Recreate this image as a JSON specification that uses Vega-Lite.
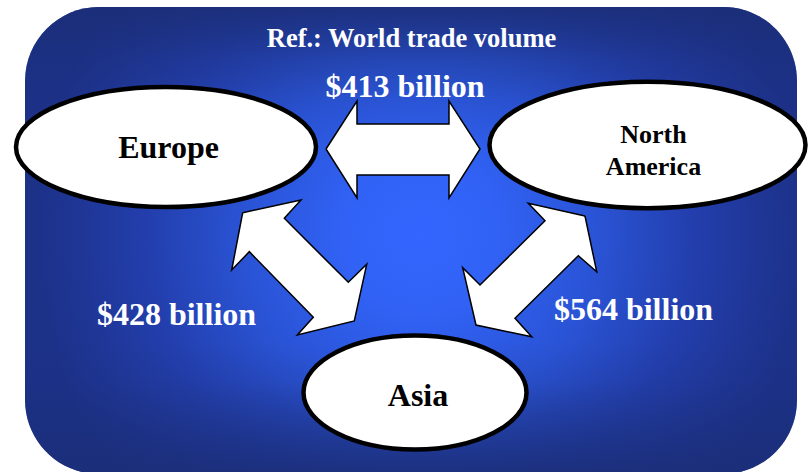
{
  "$schema": "https://vega.github.io/schema/vega-lite/v6.json",
  "width": 811,
  "height": 472,
  "autosize": "none",
  "padding": 0,
  "background": "white",
  "config": {"view": {"stroke": null}, "text": {"font": "Liberation Serif", "fontWeight": "bold"}},
  "datasets": {
    "frame": [{"x": 25, "x2": 797, "y": 7, "y2": 474}],
    "arrows": [
      {"a": "Europe-North America", "i": 0, "x": 326, "y": 149},
      {"a": "Europe-North America", "i": 1, "x": 357, "y": 101},
      {"a": "Europe-North America", "i": 2, "x": 357, "y": 124},
      {"a": "Europe-North America", "i": 3, "x": 449, "y": 124},
      {"a": "Europe-North America", "i": 4, "x": 449, "y": 101},
      {"a": "Europe-North America", "i": 5, "x": 480, "y": 149},
      {"a": "Europe-North America", "i": 6, "x": 449, "y": 198},
      {"a": "Europe-North America", "i": 7, "x": 449, "y": 175},
      {"a": "Europe-North America", "i": 8, "x": 357, "y": 175},
      {"a": "Europe-North America", "i": 9, "x": 357, "y": 198},
      {"a": "Europe-North America", "i": 10, "x": 326, "y": 149},
      {"a": "Europe-Asia", "i": 0, "x": 242.7, "y": 212.7},
      {"a": "Europe-Asia", "i": 1, "x": 301, "y": 200},
      {"a": "Europe-Asia", "i": 2, "x": 284.3, "y": 218.3},
      {"a": "Europe-Asia", "i": 3, "x": 348.3, "y": 282.3},
      {"a": "Europe-Asia", "i": 4, "x": 366.7, "y": 264.3},
      {"a": "Europe-Asia", "i": 5, "x": 354.3, "y": 321},
      {"a": "Europe-Asia", "i": 6, "x": 297.3, "y": 335},
      {"a": "Europe-Asia", "i": 7, "x": 313.3, "y": 317.3},
      {"a": "Europe-Asia", "i": 8, "x": 249.3, "y": 251.7},
      {"a": "Europe-Asia", "i": 9, "x": 231.7, "y": 270},
      {"a": "Europe-Asia", "i": 10, "x": 242.7, "y": 212.7},
      {"a": "North America-Asia", "i": 0, "x": 585, "y": 216},
      {"a": "North America-Asia", "i": 1, "x": 596.7, "y": 271.7},
      {"a": "North America-Asia", "i": 2, "x": 578.3, "y": 255.7},
      {"a": "North America-Asia", "i": 3, "x": 515, "y": 318.3},
      {"a": "North America-Asia", "i": 4, "x": 531.7, "y": 336.7},
      {"a": "North America-Asia", "i": 5, "x": 476, "y": 325},
      {"a": "North America-Asia", "i": 6, "x": 462.7, "y": 267.7},
      {"a": "North America-Asia", "i": 7, "x": 480, "y": 285},
      {"a": "North America-Asia", "i": 8, "x": 545, "y": 220.7},
      {"a": "North America-Asia", "i": 9, "x": 528.3, "y": 203.3},
      {"a": "North America-Asia", "i": 10, "x": 585, "y": 216}
    ],
    "regions": [
      {"region": "Europe", "x": 166, "y": 147, "w": 300, "form": "wide"},
      {"region": "North America", "x": 647.5, "y": 145, "w": 316, "form": "wide"},
      {"region": "Asia", "x": 415, "y": 392.5, "w": 223, "form": "round"}
    ],
    "title": [{"t": "Ref.: World trade volume", "x": 411.5, "y": 47}],
    "amounts": [
      {"t": "$413 billion", "x": 405, "y": 97},
      {"t": "$428 billion", "x": 176.5, "y": 325},
      {"t": "$564 billion", "x": 633.5, "y": 320}
    ],
    "bigLabels": [
      {"t": "Europe", "x": 168.5, "y": 158},
      {"t": "Asia", "x": 418, "y": 406}
    ],
    "smallLabels": [
      {"t": "North", "x": 653.5, "y": 143},
      {"t": "America", "x": 653.5, "y": 175}
    ]
  },
  "layer": [
    {
      "data": {"name": "frame"},
      "mark": {
        "type": "rect",
        "cornerRadius": 74,
        "fill": {
          "gradient": "radial",
          "x1": 0.512, "y1": 0.493, "r1": 0,
          "x2": 0.512, "y2": 0.493, "r2": 0.5,
          "stops": [
            {"offset": 0, "color": "#3366ff"},
            {"offset": 0.2, "color": "#3162f5"},
            {"offset": 0.45, "color": "#2a54d6"},
            {"offset": 0.7, "color": "#233fae"},
            {"offset": 0.88, "color": "#1f3696"},
            {"offset": 1, "color": "#1c3188"}
          ]
        }
      },
      "encoding": {
        "x": {"field": "x", "type": "quantitative", "scale": {"domain": [0, 811], "nice": false, "zero": false}, "axis": null},
        "x2": {"field": "x2"},
        "y": {"field": "y", "type": "quantitative", "scale": {"domain": [0, 472], "nice": false, "zero": false, "reverse": true}, "axis": null},
        "y2": {"field": "y2"}
      }
    },
    {
      "data": {"name": "frame"},
      "mark": {
        "type": "rect",
        "cornerRadius": 74,
        "fill": {
          "gradient": "linear",
          "x1": 0, "y1": 0, "x2": 0, "y2": 1,
          "stops": [
            {"offset": 0, "color": "rgba(27,46,120,0.9)"},
            {"offset": 0.113, "color": "rgba(27,46,120,0.35)"},
            {"offset": 0.2, "color": "rgba(27,46,120,0.12)"},
            {"offset": 0.3, "color": "rgba(27,46,120,0)"},
            {"offset": 0.72, "color": "rgba(27,46,120,0)"},
            {"offset": 0.8, "color": "rgba(27,46,120,0.12)"},
            {"offset": 0.9, "color": "rgba(27,46,120,0.5)"},
            {"offset": 1, "color": "rgba(27,46,120,0.9)"}
          ]
        }
      },
      "encoding": {
        "x": {"field": "x", "type": "quantitative", "scale": {"domain": [0, 811], "nice": false, "zero": false}, "axis": null},
        "x2": {"field": "x2"},
        "y": {"field": "y", "type": "quantitative", "scale": {"domain": [0, 472], "nice": false, "zero": false, "reverse": true}, "axis": null},
        "y2": {"field": "y2"}
      }
    },
    {
      "data": {"name": "arrows"},
      "mark": {"type": "line", "fill": "white", "stroke": "black", "strokeWidth": 1.5, "strokeJoin": "miter"},
      "encoding": {
        "x": {"field": "x", "type": "quantitative", "scale": {"domain": [0, 811], "nice": false, "zero": false}, "axis": null},
        "y": {"field": "y", "type": "quantitative", "scale": {"domain": [0, 472], "nice": false, "zero": false, "reverse": true}, "axis": null},
        "detail": {"field": "a", "type": "nominal"},
        "order": {"field": "i", "type": "quantitative"}
      }
    },
    {
      "data": {"name": "regions"},
      "mark": {"type": "point", "filled": true, "fill": "white", "stroke": "black", "strokeWidth": 4.5, "opacity": 1, "fillOpacity": 1, "strokeOpacity": 1},
      "encoding": {
        "x": {"field": "x", "type": "quantitative", "scale": {"domain": [0, 811], "nice": false, "zero": false}, "axis": null},
        "y": {"field": "y", "type": "quantitative", "scale": {"domain": [0, 472], "nice": false, "zero": false, "reverse": true}, "axis": null},
        "shape": {
          "field": "form", "type": "nominal", "legend": null,
          "scale": {
            "domain": ["wide", "round"],
            "range": [
              "M-1,0C-1,-0.2209,-0.5523,-0.4,0,-0.4C0.5523,-0.4,1,-0.2209,1,0C1,0.2209,0.5523,0.4,0,0.4C-0.5523,0.4,-1,0.2209,-1,0Z",
              "M-1,0C-1,-0.2822,-0.5523,-0.511,0,-0.511C0.5523,-0.511,1,-0.2822,1,0C1,0.2822,0.5523,0.511,0,0.511C-0.5523,0.511,-1,0.2822,-1,0Z"
            ]
          }
        },
        "size": {"field": "w", "type": "quantitative", "legend": null, "scale": {"type": "pow", "exponent": 2, "domain": [0, 811], "range": [0, 657721]}}
      }
    },
    {
      "data": {"name": "title"},
      "mark": {"type": "text", "fontSize": 26.5, "color": "white", "align": "center", "baseline": "alphabetic"},
      "encoding": {
        "x": {"field": "x", "type": "quantitative", "scale": {"domain": [0, 811], "nice": false, "zero": false}, "axis": null},
        "y": {"field": "y", "type": "quantitative", "scale": {"domain": [0, 472], "nice": false, "zero": false, "reverse": true}, "axis": null},
        "text": {"field": "t"}
      }
    },
    {
      "data": {"name": "amounts"},
      "mark": {"type": "text", "fontSize": 32, "color": "white", "align": "center", "baseline": "alphabetic"},
      "encoding": {
        "x": {"field": "x", "type": "quantitative", "scale": {"domain": [0, 811], "nice": false, "zero": false}, "axis": null},
        "y": {"field": "y", "type": "quantitative", "scale": {"domain": [0, 472], "nice": false, "zero": false, "reverse": true}, "axis": null},
        "text": {"field": "t"}
      }
    },
    {
      "data": {"name": "bigLabels"},
      "mark": {"type": "text", "fontSize": 32, "color": "black", "align": "center", "baseline": "alphabetic"},
      "encoding": {
        "x": {"field": "x", "type": "quantitative", "scale": {"domain": [0, 811], "nice": false, "zero": false}, "axis": null},
        "y": {"field": "y", "type": "quantitative", "scale": {"domain": [0, 472], "nice": false, "zero": false, "reverse": true}, "axis": null},
        "text": {"field": "t"}
      }
    },
    {
      "data": {"name": "smallLabels"},
      "mark": {"type": "text", "fontSize": 26, "color": "black", "align": "center", "baseline": "alphabetic"},
      "encoding": {
        "x": {"field": "x", "type": "quantitative", "scale": {"domain": [0, 811], "nice": false, "zero": false}, "axis": null},
        "y": {"field": "y", "type": "quantitative", "scale": {"domain": [0, 472], "nice": false, "zero": false, "reverse": true}, "axis": null},
        "text": {"field": "t"}
      }
    }
  ]
}
